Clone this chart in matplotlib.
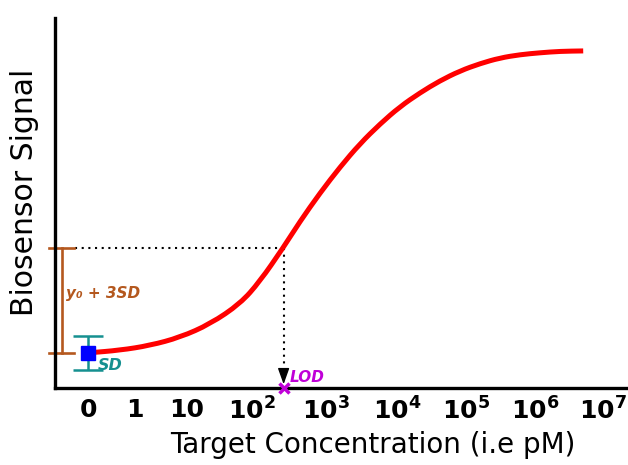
import matplotlib
matplotlib.use("Agg")
import matplotlib.pyplot as plt
from matplotlib.path import Path
from matplotlib.patches import PathPatch

plt.rcParams["font.family"] = "DejaVu Sans"

# x axis in "decade" units, labels
tick_labels = ["0", "1", "10", r"$\mathbf{10^{2}}$", r"$\mathbf{10^{3}}$", r"$\mathbf{10^{4}}$",
               r"$\mathbf{10^{5}}$", r"$\mathbf{10^{6}}$", r"$\mathbf{10^{7}}$"]
tick_pos = [-0.41, 0.26, 1, 1.93, 2.99, 4.0, 4.99, 5.97, 6.94]

# calibration curve (signal, arbitrary units 0-100)
curve_x = [-0.41, 0.04, 0.47, 0.90, 1.33, 1.76, 2.04, 2.37, 2.61, 2.90, 3.19, 3.47,
           3.76, 4.04, 4.33, 4.61, 4.90, 5.19, 5.47, 5.76, 6.04, 6.33, 6.66]
curve_y = [9.5, 10.2, 11.5, 13.7, 17.3, 22.8, 28.8, 37.8, 44.9, 52.7, 59.8, 66.0,
           71.4, 76.0, 79.8, 83.0, 85.7, 87.7, 89.2, 90.1, 90.6, 91.0, 91.1]

blank_mean = 9.5     # y0
blank_sd = 4.6       # SD of blank
lod_signal = 37.8    # y0 + 3SD level
lod_x = 2.38         # LOD concentration position

red = "#ff0000"
teal = "#159090"
brown = "#b4581e"
violet = "#c000d8"

fig = plt.figure(figsize=(6.28, 4.65), dpi=100)
ax = fig.add_axes([55 / 628, 77 / 465, 573 / 628, 370 / 465])
ax.set_xlim(-0.886, 7.3)
ax.set_ylim(0, 100)

for s in ["top", "right"]:
    ax.spines[s].set_visible(False)
for s in ["left", "bottom"]:
    ax.spines[s].set_linewidth(2.4)

ax.set_yticks([])
ax.set_xticks(tick_pos)
ax.set_xticklabels(tick_labels, fontsize=18, fontweight="bold")
ax.tick_params(axis="x", length=0, pad=7)

ax.set_ylabel("Biosensor Signal", fontsize=21.5)
ax.yaxis.set_label_coords(-0.028, 0.53)
ax.set_xlabel("Target Concentration (i.e pM)", fontsize=20)
ax.xaxis.set_label_coords(0.555, -0.115)

# curve: smooth quadratic path through the read points
pts = list(zip(curve_x, curve_y))
mid = lambda a, b: ((a[0] + b[0]) / 2, (a[1] + b[1]) / 2)
verts = [pts[0], mid(pts[0], pts[1])]
codes = [Path.MOVETO, Path.LINETO]
for i in range(1, len(pts) - 1):
    verts += [pts[i], mid(pts[i], pts[i + 1])]
    codes += [Path.CURVE3, Path.CURVE3]
verts.append(pts[-1])
codes.append(Path.LINETO)
ax.add_patch(PathPatch(Path(verts, codes), facecolor="none", edgecolor=red,
                       lw=3.6, capstyle="butt", zorder=3))

# blank with SD
x0 = tick_pos[0]
ax.errorbar([x0], [blank_mean], yerr=[blank_sd], fmt="none", ecolor=teal,
            elinewidth=1.8, capsize=11, capthick=1.8, zorder=2)
ax.plot([x0], [blank_mean], marker="s", ms=9.5, color="#0000ff", ls="none", zorder=4)
ax.text(x0 + 0.13, blank_mean - 3.4, "SD", color=teal, fontsize=11.5,
        fontweight="bold", style="italic", va="center", ha="left")

# y0 + 3SD bracket
xb = -0.786
ax.plot([xb, xb], [blank_mean, lod_signal], color=brown, lw=1.9, clip_on=False)
for yv in [blank_mean, lod_signal]:
    ax.plot([xb - 0.19, xb + 0.17], [yv, yv], color=brown, lw=1.9, clip_on=False)
ax.text(xb + 0.06, 25.6, "y\u2080 + 3SD", color=brown, fontsize=11,
        fontweight="bold", style="italic", va="center", ha="left")

# dotted guides
ax.plot([xb + 0.18, lod_x], [lod_signal, lod_signal], color="black", lw=1.5,
        ls=(0, (1, 2.2)), zorder=1)
ax.plot([lod_x, lod_x], [lod_signal, 3.0], color="black", lw=1.5,
        ls=(0, (1, 2.2)), zorder=1)
ax.annotate("", xy=(lod_x, 1.0), xytext=(lod_x, 5.0),
            arrowprops=dict(arrowstyle="-|>,head_length=0.7,head_width=0.25",
                            color="black", lw=1, mutation_scale=14,
                            shrinkA=0, shrinkB=0))

# LOD marker
ax.plot([lod_x], [0], marker="x", ms=7, mew=2.5, color=violet, clip_on=False, zorder=5)
ax.text(lod_x + 0.09, 2.9, "LOD", color=violet, fontsize=11,
        fontweight="bold", style="italic", va="center", ha="left")

fig.savefig("out.png", dpi=100)
